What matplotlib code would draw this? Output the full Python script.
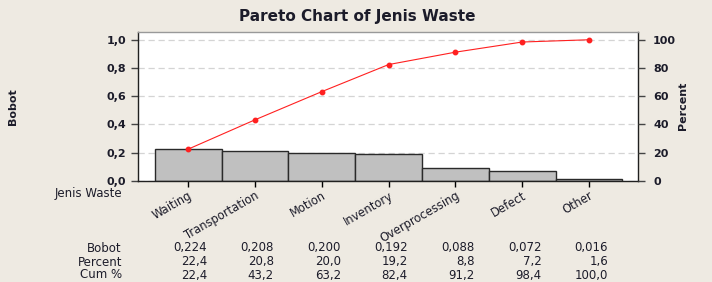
import matplotlib
matplotlib.use("Agg")
import matplotlib.pyplot as plt
import matplotlib.transforms as mtransforms
from matplotlib.ticker import FuncFormatter

# Data
categories = ["Waiting", "Transportation", "Motion", "Inventory",
              "Overprocessing", "Defect", "Other"]
bobot = [0.224, 0.208, 0.200, 0.192, 0.088, 0.072, 0.016]
percent = [22.4, 20.8, 20.0, 19.2, 8.8, 7.2, 1.6]
cum_pct = [22.4, 43.2, 63.2, 82.4, 91.2, 98.4, 100.0]

BG = "#EEEAE2"
TXT = "#1c1c2a"


def comma(v, fmt):
    return format(v, fmt).replace(".", ",")


fig = plt.figure(figsize=(7.12, 2.82), dpi=100, facecolor=BG)
ax = fig.add_axes([0.1938, 0.359, 0.702, 0.5285])
ax.set_facecolor("white")

x = list(range(len(categories)))
ax.bar(x, bobot, width=1.0, color="#C0C0C0", edgecolor="#2a2a2a", linewidth=1.0, zorder=2)
ax.set_xlim(-0.75, 6.73)
ax.set_ylim(0, 1.057)
ax.set_yticks([0.0, 0.2, 0.4, 0.6, 0.8, 1.0])
ax.yaxis.set_major_formatter(FuncFormatter(lambda v, p: comma(v, ".1f")))
ax.grid(axis="y", color="#d4d4d4", linestyle=(0, (5, 3)), linewidth=0.9, zorder=0)
ax.set_axisbelow(True)

ax.set_xticks(x)
ax.set_xticklabels(categories, rotation=30, ha="right", va="top",
                   rotation_mode="anchor", fontsize=8.3, color=TXT)
ax.tick_params(axis="x", length=4, width=1, pad=2)
ax.tick_params(axis="y", length=5, width=1, labelsize=8, colors="#444444", labelcolor=TXT)
for lbl in ax.get_yticklabels():
    lbl.set_fontweight("bold")
ax.set_ylabel("Bobot", fontsize=8, fontweight="bold", color=TXT)
ax.yaxis.set_label_coords(-0.24, 0.5)
for s in ax.spines.values():
    s.set_color("#202020")
    s.set_linewidth(1.0)
ax.spines["top"].set_color("#999999")

ax2 = ax.twinx()
ax2.plot(x, cum_pct, color="#ff2020", linewidth=0.8, marker="o", markersize=3.2, zorder=3)
ax2.set_ylim(0, 105.7)
ax2.set_yticks([0, 20, 40, 60, 80, 100])
ax2.tick_params(axis="y", length=5, width=1, labelsize=8, colors="#444444", labelcolor=TXT, pad=6)
for lbl in ax2.get_yticklabels():
    lbl.set_fontweight("bold")
ax2.set_ylabel("Percent", fontsize=8, fontweight="bold", color=TXT)
ax2.yaxis.set_label_coords(1.08, 0.5)
for s in ax2.spines.values():
    s.set_visible(False)

fig.text(0.502, 0.94, "Pareto Chart of Jenis Waste", ha="center", va="center",
         fontsize=11, fontweight="bold", color=TXT)

# Table under the chart
fig.text(122 / 712, 1 - 194 / 282, "Jenis Waste", ha="right", va="center",
         fontsize=8.5, color=TXT)
rows = [("Bobot", [comma(v, ".3f") for v in bobot]),
        ("Percent", [comma(v, ".1f") for v in percent]),
        ("Cum %", [comma(v, ".1f") for v in cum_pct])]
row_y = [248, 262, 275]
trans = mtransforms.blended_transform_factory(ax.transData, fig.transFigure)
for (name, vals), ypix in zip(rows, row_y):
    yf = 1 - ypix / 282
    fig.text(122 / 712, yf, name, ha="right", va="center", fontsize=8.5, color=TXT)
    for i, s in enumerate(vals):
        ax.text(i + 0.285, yf, s, transform=trans, ha="right", va="center",
                fontsize=8.5, color=TXT, clip_on=False)

fig.savefig("out.png", dpi=100, facecolor=BG)
